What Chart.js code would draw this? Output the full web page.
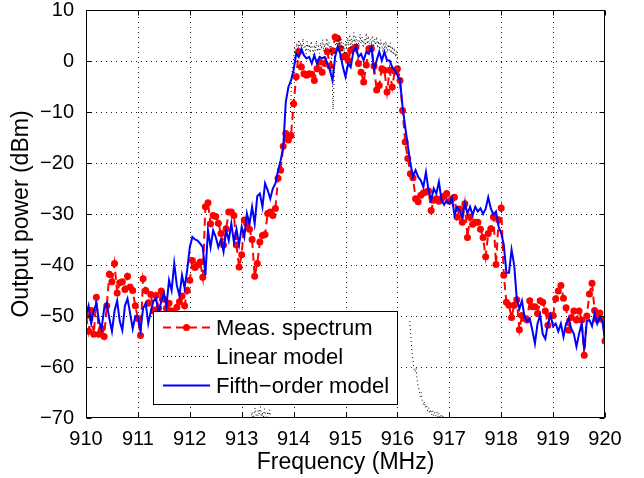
<!DOCTYPE html>
<html>
<head>
<meta charset="utf-8">
<script src="https://cdn.jsdelivr.net/npm/chart.js@4.4.0/dist/chart.umd.min.js"></script>
<style>
  html, body { margin: 0; padding: 0; background: #ffffff; }
  #wrap { width: 644px; height: 478px; }
</style>
</head>
<body>
<div id="wrap"><canvas id="spectrum" width="644" height="478"></canvas></div>
<script>
// Frequency grid of the measured spectrum and the fifth-order model (MHz)
const measStartMHz = 910;
const measStepMHz = 0.05;

// Measured output spectrum (dBm), 910.00 ... 920.00 MHz
const measDbm = [
  -50, -53, -48.9, -53.6, -46.3, -53.6, -52.5, -54, -48, -41.8,
  -43.3, -39.7, -45.5, -43.5, -43.3, -44.8, -42.2, -44.3, -45, -48,
  -50.5, -53.8, -42.7, -45, -47.5, -45.8, -49, -46, -48.5, -45.1,
  -46.7, -48.5, -47.5, -49, -50, -48.3, -47.2, -46.1, -48, -45,
  -43, -39.1, -40.5, -40, -39.4, -42.4, -28.6, -27.8, -31.9, -30.3,
  -30.5, -31.8, -33.8, -36.1, -32.9, -29.6, -29.6, -30.3, -36.1, -40.4,
  -38, -31.2, -31.9, -33, -35, -42.2, -39.7, -35.5, -34.2, -34,
  -29.9, -29.6, -30.3, -28.9, -23, -21.4, -16.7, -14.2, -15.5, -14.6,
  -8.4, -3.1, 1.8, -1.2, -2.5, -2.8, -2.5, -2.6, -3.8, -1.5,
  -0.2, -2.2, -0.5, 1.8, -1, 2, 4.7, 4.4, 2.5, 0.8,
  1.1, 0.1, 2.1, 2.4, 2.7, -0.5, -2.2, -4.1, -0.8, 2.4,
  2.4, -1, -5.7, -4.8, -1.5, -1.8, -6.1, -1.8, -5.1, -2,
  -1.5, -3.8, -9.7, -15.9, -19.1, -22.1, -22.9, -27, -27.6, -26.3,
  -25.9, -25.7, -25.5, -29.3, -27.3, -27, -27.5, -27, -26.5, -26,
  -27.5, -27, -26.7, -30.6, -29, -31.6, -28, -34.6, -30.6, -32,
  -31.6, -31.6, -33, -34.6, -38.4, -33.8, -32.9, -30.6, -39.9, -31.2,
  -28.8, -42, -47.3, -47.9, -50.3, -47.9, -46.8, -52.7, -49.9, -50.5,
  -50.8, -47, -48.2, -48.2, -49.5, -47, -47.3, -49, -51.8, -49.9,
  -49.9, -46.6, -45.1, -44, -46.5, -48.4, -52.8, -50.3, -49, -50.8,
  -49, -50.8, -57.7, -50, -45.7, -43.6, -48.9, -50.7, -49.4, -50.7,
  -54.9
];

// Fifth-order behavioural model output (dBm), same grid
const fifthDbm = [
  -49.9, -48, -51.5, -49, -47.5, -51, -52.5, -48.5, -47.5, -50.5,
  -53, -49, -47, -51, -52.8, -48, -46.6, -49.5, -52.5, -50,
  -50.2, -52.8, -48.5, -47.5, -51.5, -49, -47, -46.5, -49.5, -47,
  -45.5, -48, -43, -45, -39.7, -44, -46, -42, -44.5, -41,
  -36.5, -34.5, -35, -35.2, -35.8, -36.5, -42, -33.2, -36.5, -33.2,
  -34.5, -36.5, -35, -37.4, -33.2, -35.2, -31.9, -35.5, -33, -36,
  -32.5, -34.5, -29.9, -31.9, -28.6, -31.9, -26.5, -26, -28.6, -24,
  -25.3, -27, -25, -24, -21.5, -19.5, -17, -8, -5.1, -3.8,
  -1.8, 1.4, 0.8, 2.4, 1.1, 0.5, 0.8, -0.5, 1.1, -0.5,
  0.8, 0.5, 0.8, -0.5, -1.8, -3.8, 0.8, 2.8, 1.4, -1.2,
  -3.1, -0.5, -1.2, 1.8, 2.8, 0.8, 1.4, 0.1, 1.8, 1.4,
  2.8, -1.8, 0.1, 1.8, 0.1, 1.8, 0.1, 0.1, -1.2, -1.8,
  -2.8, -3.8, -9, -12.9, -16.5, -20.1, -22.7, -21.4, -22.7, -23.4,
  -24.7, -21.8, -25.4, -27.3, -25, -26, -23.7, -27.3, -28.2, -27.3,
  -27.9, -26.8, -30.2, -28.6, -29.3, -30.5, -27.9, -29.9, -28.6, -30.2,
  -28.6, -29.5, -28.9, -30, -29, -26.7, -28.9, -30.2, -29.5, -32.5,
  -33.8, -36, -41.5, -41.5, -37, -40, -46.6, -48.6, -47, -50.2,
  -51, -50.5, -52.8, -55.4, -51.5, -49.8, -53.5, -54.5, -51.5, -49.8,
  -52, -51.5, -53, -51.5, -54.1, -51.5, -50.5, -52.5, -53.5, -56,
  -53.5, -51.5, -56.7, -51, -50.8, -52, -49.5, -51.5, -50.2, -51,
  -54.8
];

// Linear model output (dBm) on a finer grid, 913.16 ... 916.92 MHz;
// null where the trace lies below the plotted range
const linStartMHz = 913.16;
const linStepMHz = 0.02;
const linearDbm = [
  -71, -69.5, -68.8, -70.5, -69, -68, -69.5, -71, -68.5, -69.2,
  -67.8, -70.2, -68.9, -69.8, -68.2, -69.5, -71, -68.7, -69.9, -68.4,
  -70.3, -71,
  null, null, null, null, null, null, null, null, null, null,
  null, null, null, null, null,
  null, null, -10, -4, -1, 0.5, 2.5, 1.5, 3.5, 2,
  4.2, 2.8, 3.6, 1.9, 4.4, 2.6, 3.1, 1.4, 3.8, 2.2,
  3.3, 1.6, 3.9, 2.4, 1.2, 3.2, 2, 4, 1.8, 3,
  1.5, 3.6, 2.3, 4.2, 1.9, 3.4, 2.1, 4.5, 2.8, 3.7,
  1.6, 3.2, -2, -9.5, -4, 2.5, 4.1, 2.2, 3.8, 5,
  2.7, 4.3, 2, 3.5, 1.4, 3.9, 2.4, 4.6, 3, 5.2,
  2.6, 4.4, 3.1, 5.6, 3.2, 4.8, 2.5, 4.1, 2.9, 5.3,
  3.4, 4.7, 2.6, 4.3, 3, 5.5, 3.3, 4.9, 2.8, 4.2,
  3.6, 5, 2.7, 4.4, 3.1, 4.8, 2.5, 3.9, 2.2, 4.2,
  3, 1.8, 3.7, 2.4, 3.9, 1.6, 3.3, 2.1, 3.6, 1.5,
  2.9, 1.2, 2.6, 0.8, 1.9, 0.2, -0.8, -2.5, -4, null,
  null, null, null, null, null, null, null, -51, -54, -57,
  -58.5, -60.5, -61, -60.2, -62.5, -63.8, -64.5, -65.8, -65, -66.6,
  -67.5, -66.8, -68, -67.4, -68.6, -68, -69.1, -68.3, -69.4, -68.6,
  -69.6, -68.9, -69.5, -68.8, -69.8, -69.1, -70.2, -69.3, -70.4, -69.5,
  -71, -72
];

const seriesNames = ['Meas. spectrum', 'Linear model', 'Fifth\u2212order model'];
const xTitle = 'Frequency (MHz)';
const yTitle = 'Output power (dBm)';
const xRange = [910, 920];
const yRange = [-70, 10];

const FONT = "'Liberation Sans', Arial, Helvetica, sans-serif";
const RED = '#ff0000', BLUE = '#0000ff', BLACK = '#000000';

const toPoints = (vals, start, step) =>
  vals.map((v, i) => ({ x: +(start + i * step).toFixed(3), y: v }));

const minusLabel = v => (v < 0 ? '\u2212' + Math.abs(v) : String(v));

// Dotted grid, axes box with inward tick marks, and the boxed legend
const framePlugin = {
  id: 'frame',
  beforeDatasetsDraw(chart) {
    const { ctx, chartArea: a, scales: { x, y } } = chart;
    ctx.save();
    ctx.strokeStyle = '#1a1a1a';
    ctx.lineWidth = 1;
    ctx.setLineDash([1, 4]);
    x.ticks.forEach(t => {
      const px = Math.round(x.getPixelForValue(t.value)) + 0.5;
      if (px <= a.left + 1 || px >= a.right - 1) return;
      ctx.beginPath(); ctx.moveTo(px, a.bottom); ctx.lineTo(px, a.top); ctx.stroke();
    });
    y.ticks.forEach(t => {
      const py = Math.round(y.getPixelForValue(t.value)) + 0.5;
      if (py <= a.top + 1 || py >= a.bottom - 1) return;
      ctx.beginPath(); ctx.moveTo(a.left, py); ctx.lineTo(a.right, py); ctx.stroke();
    });
    ctx.restore();
  },
  afterDatasetsDraw(chart) {
    const { ctx, chartArea: a, scales: { x, y } } = chart;
    ctx.save();
    ctx.strokeStyle = BLACK;
    ctx.lineWidth = 1;
    ctx.setLineDash([]);
    const L = Math.round(a.left) + 0.5, R = Math.round(a.right) - 0.5;
    const T = Math.round(a.top) + 0.5, B = Math.round(a.bottom) - 0.5;
    ctx.strokeRect(L, T, R - L, B - T);
    const tick = 5;
    ctx.beginPath();
    x.ticks.forEach(t => {
      const px = Math.round(x.getPixelForValue(t.value)) + 0.5;
      ctx.moveTo(px, B); ctx.lineTo(px, B - tick);
      ctx.moveTo(px, T); ctx.lineTo(px, T + tick);
    });
    y.ticks.forEach(t => {
      const py = Math.round(y.getPixelForValue(t.value)) + 0.5;
      ctx.moveTo(L, py); ctx.lineTo(L + tick, py);
      ctx.moveTo(R, py); ctx.lineTo(R - tick, py);
    });
    ctx.stroke();
    ctx.restore();
  },
  afterDraw(chart) {
    const { ctx } = chart;
    const ds = chart.data.datasets;
    const byName = n => ds.find(d => d.label === n);
    const box = { x: 153.5, y: 311.5, w: 244, h: 93 };
    ctx.save();
    ctx.fillStyle = '#ffffff';
    ctx.fillRect(box.x, box.y, box.w, box.h);
    ctx.strokeStyle = BLACK;
    ctx.lineWidth = 1;
    ctx.setLineDash([]);
    ctx.strokeRect(box.x, box.y, box.w, box.h);
    const x0 = 163, x1 = 210, tx = 216;
    const rows = [327.5, 356.5, 385.5];
    seriesNames.forEach((name, i) => {
      const d = byName(name);
      const yy = rows[i];
      ctx.save();
      ctx.strokeStyle = d.borderColor;
      ctx.lineWidth = d.borderWidth;
      ctx.setLineDash(d.borderDash || []);
      ctx.beginPath(); ctx.moveTo(x0, yy); ctx.lineTo(x1, yy); ctx.stroke();
      if (d.pointRadius > 0) {
        ctx.setLineDash([]);
        ctx.fillStyle = d.pointBackgroundColor;
        ctx.beginPath(); ctx.arc((x0 + x1) / 2, yy, d.pointRadius, 0, Math.PI * 2); ctx.fill();
      }
      ctx.restore();
      ctx.fillStyle = BLACK;
      ctx.font = '22px ' + FONT;
      ctx.textBaseline = 'middle';
      ctx.textAlign = 'left';
      ctx.fillText(name, tx, yy + 1);
    });
    ctx.restore();
  }
};

new Chart(document.getElementById('spectrum'), {
  type: 'line',
  data: {
    datasets: [
      {
        label: seriesNames[2],
        data: toPoints(fifthDbm, measStartMHz, measStepMHz),
        borderColor: BLUE, borderWidth: 2, pointRadius: 0,
        tension: 0, order: 0
      },
      {
        label: seriesNames[1],
        data: toPoints(linearDbm, linStartMHz, linStepMHz),
        borderColor: BLACK, borderWidth: 1, borderDash: [1, 3], pointRadius: 0,
        spanGaps: false, tension: 0, order: 1
      },
      {
        label: seriesNames[0],
        data: toPoints(measDbm, measStartMHz, measStepMHz),
        borderColor: RED, borderWidth: 2, borderDash: [8, 5],
        pointRadius: 3.5, pointBackgroundColor: RED, pointBorderWidth: 0,
        pointBorderColor: RED, tension: 0, order: 2
      }
    ]
  },
  options: {
    responsive: false,
    animation: false,
    devicePixelRatio: 1,
    layout: { padding: { top: 10, right: 39, left: 0, bottom: 0 } },
    plugins: { legend: { display: false }, tooltip: { enabled: false } },
    scales: {
      x: {
        type: 'linear', min: xRange[0], max: xRange[1],
        grid: { display: false }, border: { display: false },
        ticks: {
          stepSize: 1, color: BLACK, padding: 1, maxRotation: 0, autoSkip: false,
          font: { family: FONT, size: 20 }, callback: v => minusLabel(v)
        },
        title: {
          display: true, text: xTitle, color: BLACK,
          font: { family: FONT, size: 23 }, padding: { top: 0, bottom: 2 }
        },
        afterFit(s) { s.height = 60; s.paddingLeft = 0; s.paddingRight = 0; }
      },
      y: {
        type: 'linear', min: yRange[0], max: yRange[1],
        grid: { display: false }, border: { display: false },
        ticks: {
          stepSize: 10, color: BLACK, padding: 4, autoSkip: false,
          font: { family: FONT, size: 20 }, callback: v => minusLabel(v)
        },
        title: {
          display: true, text: yTitle, color: BLACK,
          font: { family: FONT, size: 23 }, padding: { top: 8, bottom: 0 }
        },
        afterFit(s) { s.width = 86; s.paddingTop = 0; s.paddingBottom = 0; }
      }
    }
  },
  plugins: [framePlugin]
});
</script>
</body>
</html>
